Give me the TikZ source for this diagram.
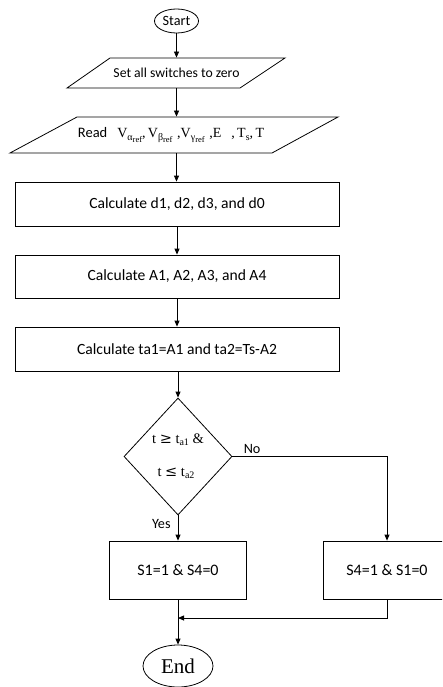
\documentclass[tikz,border=0pt]{standalone}
\usepackage{fontspec}
\setmainfont{Liberation Serif}
\newfontfamily\carl{Carlito}
\newfontfamily\cmath{DejaVu Serif}
\usetikzlibrary{shapes.geometric,arrows.meta}
\newcommand\mysub[1]{\raisebox{-0.35ex}{\fontsize{10}{10}\selectfont #1}}
\newcommand\mysubb[1]{\raisebox{-0.45ex}{\fontsize{8.5}{8.5}\selectfont #1}}
\begin{document}
\begin{tikzpicture}[x=1pt,y=-1pt,
  line width=0.8pt,
  every node/.style={inner sep=0pt},
  txt/.style={font=\fontsize{14.2}{17}\carl},
  btxt/.style={font=\fontsize{15.6}{18}\carl},
  box/.style={draw,rectangle,btxt},
  term/.style={draw,ellipse},
  arr/.style={-{Triangle[length=6pt,width=5pt]}}
]
\useasboundingbox (0,0) rectangle (442,687);
\clip (0,0) rectangle (442,687);

% terminals
\node[term,minimum width=44pt,minimum height=24pt,txt] (start) at (176.5,21) {Start};
\node[term,minimum width=70pt,minimum height=42pt,font=\fontsize{21}{24}\selectfont] (end) at (178,666) {End};

% parallelogram 1
\node[font=\fontsize{13.7}{16}\carl,minimum width=174pt,minimum height=30pt] (p1) at (176.5,73) {Set all switches to zero};
\draw (110,58) -- (285,58) -- (240,88) -- (67,88) -- cycle;

% parallelogram 2
\node[minimum width=260pt,minimum height=36pt] (p2) at (171,135)
  {{\fontsize{14.5}{17}\carl Read}\hspace{10pt}{\fontsize{14}{17}\selectfont
   V\mysub{α\mysubb{ref}},\,V\mysub{β\mysubb{ref}}\,\,,V\mysub{γ\mysubb{ref}}\,\,,E\hspace{10pt},\,T\mysub{s},\,T}};
\draw (77,117) -- (338,117) -- (272,153) -- (10,153) -- cycle;

% rectangles
\node[box,minimum width=324pt,minimum height=44pt] (r1) at (177,204) {Calculate d1, d2, d3, and d0};
\node[box,minimum width=324pt,minimum height=43pt] (r2) at (177,276.5) {Calculate A1, A2, A3, and A4};
\node[box,minimum width=324pt,minimum height=44pt] (r3) at (177,349) {Calculate ta1=A1 and ta2=Ts-A2};

% decision
\node[draw,diamond,minimum width=108pt,minimum height=117pt] (d) at (178,456.5) {};
\node[font=\fontsize{14.5}{17}\selectfont] (dt1) at (178,440) {t {\cmath ≥} t\mysub{a1} \&};
\node[font=\fontsize{14.5}{17}\selectfont] (dt2) at (176,473) {t {\cmath ≤} t\mysub{a2}};

\node[box,font=\fontsize{16}{19}\carl,minimum width=137pt,minimum height=58pt] (r4) at (178,570) {S1=1 \& S4=0};
\node[box,font=\fontsize{16}{19}\carl,minimum width=128pt,minimum height=58pt] (r5) at (387,570) {S4=1 \& S1=0};

\coordinate (m) at (178,618);

% connectors
\draw[arr] (start) -- (p1);
\draw[arr] (p1.south) -- (p1.south |- p2.north);
\draw[arr] (p1.south |- p2.south) -- (p1.south |- r1.north);
\draw[arr] (r1) -- (r2);
\draw[arr] (r2) -- (r3);
\draw[arr] (r3.south -| d.north) -- (d.north);
\draw[arr] (d.south) -- node[pos=0.35,left=7pt,txt]{Yes} (r4.north);
\draw[arr] (d.east) -| (r5.north);
\node[txt,anchor=south west] (no) at ([xshift=11pt,yshift=3pt]d.east) {No};
\draw[arr] (r5.south) |- (m);
\draw[arr] (r4.south) -- (end.north);
\end{tikzpicture}
\end{document}
